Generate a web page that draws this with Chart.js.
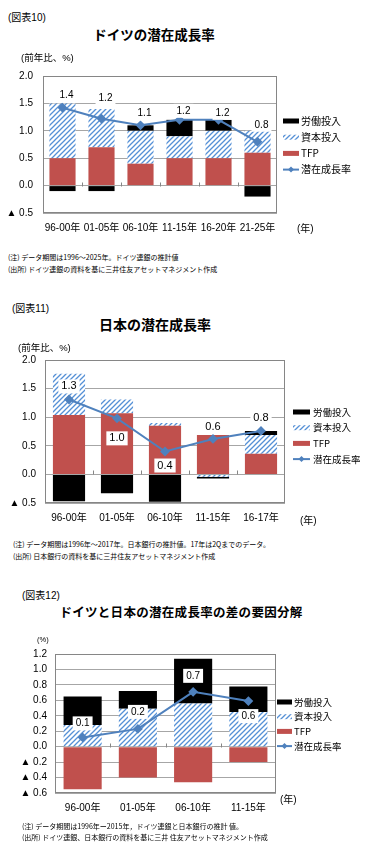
<!DOCTYPE html>
<html>
<head>
<meta charset="utf-8">
<script src="https://cdn.jsdelivr.net/npm/chart.js@4.4.0/dist/chart.umd.min.js"></script>
<style>
body { margin:0; background:#fff; width:371px; height:844px; position:relative; overflow:hidden;
  font-family:"Liberation Sans","Noto Sans CJK JP",sans-serif; color:#000; }
.t { position:absolute; white-space:nowrap; line-height:1; }
.ttl { font-family:"Noto Sans CJK JP",sans-serif; font-weight:bold; transform:translateX(-50%); }
.note { font-size:7px; font-family:"Noto Sans CJK JP",sans-serif; }
canvas { position:absolute; left:0; }
</style>
</head>
<body>
<canvas id="c1" width="371" height="185" style="top:60px"></canvas>
<canvas id="c2" width="371" height="190" style="top:345px"></canvas>
<canvas id="c3" width="371" height="185" style="top:640px"></canvas>

<div class="t" style="left:8px;top:13px;font-size:10px">(図表10)</div>
<div class="t ttl" style="left:154px;top:28px;font-size:13.5px">ドイツの潜在成長率</div>
<div class="t" style="left:21px;top:53px;font-size:9.5px">(前年比、%)</div>
<div class="t" style="left:297px;top:224px;font-size:10px">(年)</div>
<div class="t note" style="left:8px;top:254px">(注) データ期間は1996～2025年。ドイツ連銀の推計値</div>
<div class="t note" style="left:8px;top:266px">(出所) ドイツ連銀の資料を基に三井住友アセットマネジメント作成</div>

<div class="t" style="left:12px;top:304px;font-size:10px">(図表11)</div>
<div class="t ttl" style="left:155px;top:317px;font-size:14px">日本の潜在成長率</div>
<div class="t" style="left:18px;top:343px;font-size:9.5px">(前年比、%)</div>
<div class="t" style="left:300px;top:516px;font-size:10px">(年)</div>
<div class="t note" style="left:13px;top:541px">(注) データ期間は1996年～2017年。日本銀行の推計値。17年は2Qまでのデータ。</div>
<div class="t note" style="left:13px;top:553px">(出所) 日本銀行の資料を基に三井住友アセットマネジメント作成</div>

<div class="t" style="left:22px;top:591px;font-size:10px">(図表12)</div>
<div class="t ttl" style="left:181px;top:606px;font-size:12.5px;letter-spacing:0.3px">ドイツと日本の潜在成長率の差の要因分解</div>
<div class="t" style="left:37px;top:636px;font-size:7.5px">(%)</div>
<div class="t" style="left:280px;top:795px;font-size:10px">(年)</div>
<div class="t note" style="left:22px;top:823px">(注) データ期間は1996年ー2015年，ドイツ連銀と日本銀行の推計 値。</div>
<div class="t note" style="left:22px;top:834px">(出所) ドイツ連銀、日本銀行の資料を基に三井 住友アセットマネジメント作成</div>

<script>
// ドイツ
const catsDE = ['96-00年', '01-05年', '06-10年', '11-15年', '16-20年', '21-25年'];
const tfpDE = [0.5, 0.7, 0.4, 0.5, 0.5, 0.6];
const capDE = [1.0, 0.7, 0.6, 0.4, 0.5, 0.4];
const labDE = [-0.1, -0.1, 0.1, 0.3, 0.2, -0.2];
const potDE = [1.42, 1.22, 1.1, 1.2, 1.2, 0.8];

// 日本
const catsJP = ['96-00年', '01-05年', '06-10年', '11-15年', '16-17年'];
const tfpJP = [1.04, 1.07, 0.85, 0.69, 0.36];
const capJP = [0.72, 0.24, 0.05, -0.04, 0.33];
const labJP = [-0.47, -0.33, -0.48, -0.03, 0.07];
const potJP = [1.31, 0.98, 0.4, 0.62, 0.76];

// 差
const catsDF = ['96-00年', '01-05年', '06-10年', '11-15年'];
const tfpDF = [-0.55, -0.40, -0.46, -0.20];
const capDF = [0.28, 0.49, 0.56, 0.45];
const labDF = [0.37, 0.23, 0.58, 0.33];
const potDF = [0.12, 0.23, 0.71, 0.59];

const labels = ['TFP', '資本投入', '労働投入', '潜在成長率'];
const red = '#c0504d';
const blue = '#4f81bd';
const fontJP = '"Liberation Sans","Noto Sans CJK JP",sans-serif';

function hatch() {
    const p = 5;
    const c = document.createElement('canvas');
    c.width = p; c.height = p;
    const g = c.getContext('2d');
    g.fillStyle = '#fff';
    g.fillRect(0, 0, p, p);
    g.strokeStyle = '#5590d6';
    g.lineWidth = 1.3;
    g.beginPath();
    g.moveTo(0, p); g.lineTo(p, 0);
    g.moveTo(-1, 1); g.lineTo(1, -1);
    g.moveTo(p - 1, p + 1); g.lineTo(p + 1, p - 1);
    g.stroke();
    return g.createPattern(c, 'repeat');
}

function fmt(v) {
    if (v < -1e-9) return '▲ ' + Math.abs(v).toFixed(1);
    return Math.abs(v).toFixed(1);
}

function makeChart(id, cats, tfp, cap, lab, pot, o) {
    const ctx = document.getElementById(id).getContext('2d');
    const pattern = hatch();

    const extras = {
        id: 'extras',
        beforeDatasetsDraw(chart) {
            const {ctx, chartArea: a, scales: {x, y}} = chart;
            ctx.save();
            ctx.strokeStyle = '#868686';
            ctx.lineWidth = 1;
            ctx.strokeRect(Math.round(a.left) + 0.5, Math.round(a.top) + 0.5, Math.round(a.width) - 1, Math.round(a.height) - 1);
            const y0 = Math.round(y.getPixelForValue(0)) + 0.5;
            ctx.beginPath();
            for (let i = 1; i < cats.length; i++) {
                const px = Math.round((x.getPixelForTick(i - 1) + x.getPixelForTick(i)) / 2) + 0.5;
                ctx.moveTo(px, y0 - 4);
                ctx.lineTo(px, y0);
            }
            ctx.stroke();
            ctx.restore();
        },
        afterDatasetsDraw(chart) {
            const {ctx} = chart;
            const meta = chart.getDatasetMeta(3);
            ctx.save();
            ctx.font = o.lblSize + 'px "Liberation Sans"';
            ctx.textAlign = 'center';
            ctx.textBaseline = 'middle';
            meta.data.forEach((pt, i) => {
                const txt = pot[i].toFixed(1);
                const x = pt.x + o.lblDx;
                const y = pt.y + o.lblDy[i];
                const w = ctx.measureText(txt).width;
                ctx.fillStyle = '#fff';
                ctx.fillRect(x - w / 2 - 3, y - 7, w + 6, 14);
                ctx.fillStyle = '#000';
                ctx.fillText(txt, x, y);
            });
            ctx.restore();
        },
        afterDraw(chart) {
            const {ctx, chartArea: a} = chart;
            const lg = o.legend;
            ctx.save();
            ctx.font = lg.size + 'px "Noto Sans CJK JP"';
            ctx.textBaseline = 'middle';
            [2, 1, 0, 3].forEach((di, k) => {
                const ds = chart.data.datasets[di];
                const yy = lg.y + k * lg.gap;
                const x0 = a.right + lg.dx;
                if (ds.type === 'line') {
                    ctx.strokeStyle = ds.borderColor;
                    ctx.lineWidth = 2;
                    ctx.beginPath();
                    ctx.moveTo(x0, yy); ctx.lineTo(x0 + lg.w, yy);
                    ctx.stroke();
                    const cx = x0 + lg.w / 2;
                    ctx.fillStyle = ds.borderColor;
                    ctx.beginPath();
                    ctx.moveTo(cx, yy - 3); ctx.lineTo(cx + 3, yy);
                    ctx.lineTo(cx, yy + 3); ctx.lineTo(cx - 3, yy);
                    ctx.closePath();
                    ctx.fill();
                } else {
                    ctx.fillStyle = ds.backgroundColor;
                    ctx.fillRect(x0, yy - lg.h / 2, lg.w, lg.h);
                }
                ctx.fillStyle = '#000';
                ctx.fillText(ds.label, x0 + lg.w + lg.tx, yy);
            });
            ctx.restore();
        }
    };

    return new Chart(ctx, {
        type: 'bar',
        data: {
            labels: cats,
            datasets: [
                { label: labels[0], data: tfp, backgroundColor: red, order: 1 },
                { label: labels[1], data: cap, backgroundColor: pattern, order: 1 },
                { label: labels[2], data: lab, backgroundColor: '#000', order: 1 },
                {
                    label: labels[3], data: pot, type: 'line', stack: 'line', order: 0,
                    borderColor: blue, backgroundColor: blue, borderWidth: 2,
                    pointStyle: 'rectRot', pointRadius: 3.5, pointBackgroundColor: blue,
                    pointBorderColor: blue, tension: 0
                }
            ]
        },
        options: {
            responsive: false,
            animation: false,
            barPercentage: o.barPct,
            categoryPercentage: 1,
            layout: { padding: { top: o.top, right: o.right, bottom: 0, left: 0 } },
            plugins: { legend: { display: false }, tooltip: { enabled: false } },
            scales: {
                x: {
                    stacked: true,
                    grid: { display: false, drawTicks: false },
                    border: { display: false },
                    ticks: { color: '#000', padding: 9, maxRotation: 0, autoSkip: false,
                             font: { size: 10, family: fontJP } },
                    afterFit(s) { s.height = 32; }
                },
                y: {
                    stacked: true,
                    min: o.min, max: o.max,
                    grid: { color: '#a6a6a6', drawTicks: false },
                    border: { display: false },
                    ticks: { stepSize: o.step, color: '#000', padding: o.tickPad,
                             font: { size: 10, family: fontJP }, callback: v => fmt(v) },
                    afterFit(s) { s.width = o.yw; }
                }
            }
        },
        plugins: [extras]
    });
}

let chart1 = makeChart('c1', catsDE, tfpDE, capDE, labDE, potDE, {
    min: -0.5, max: 2.0, step: 0.5, top: 12, right: 94, yw: 43, tickPad: 10, barPct: 0.67,
    lblSize: 10, lblDx: 4, lblDy: [-13, -20, -12, -9, -7, -17],
    legend: { y: 61, gap: 16.2, dx: 6, w: 16, h: 5, tx: 2, size: 10 }
});

let chart2 = makeChart('c2', catsJP, tfpJP, capJP, labJP, potJP, {
    min: -0.5, max: 2.0, step: 0.5, top: 14, right: 86, yw: 45, tickPad: 9, barPct: 0.67,
    lblSize: 11, lblDx: 0, lblDy: [-13, 20, 14, -12, -13],
    legend: { y: 67, gap: 15.7, dx: 8, w: 17, h: 5, tx: 3, size: 9.5 }
});

let chart3 = makeChart('c3', catsDF, tfpDF, capDF, labDF, potDF, {
    min: -0.6, max: 1.2, step: 0.2, top: 12, right: 95, yw: 55, tickPad: 8, barPct: 0.69,
    lblSize: 10, lblDx: 0, lblDy: [-14, -17, -16, 15],
    legend: { y: 62, gap: 14.7, dx: 1, w: 15, h: 5, tx: 2, size: 9.5 }
});
</script>
</body>
</html>
